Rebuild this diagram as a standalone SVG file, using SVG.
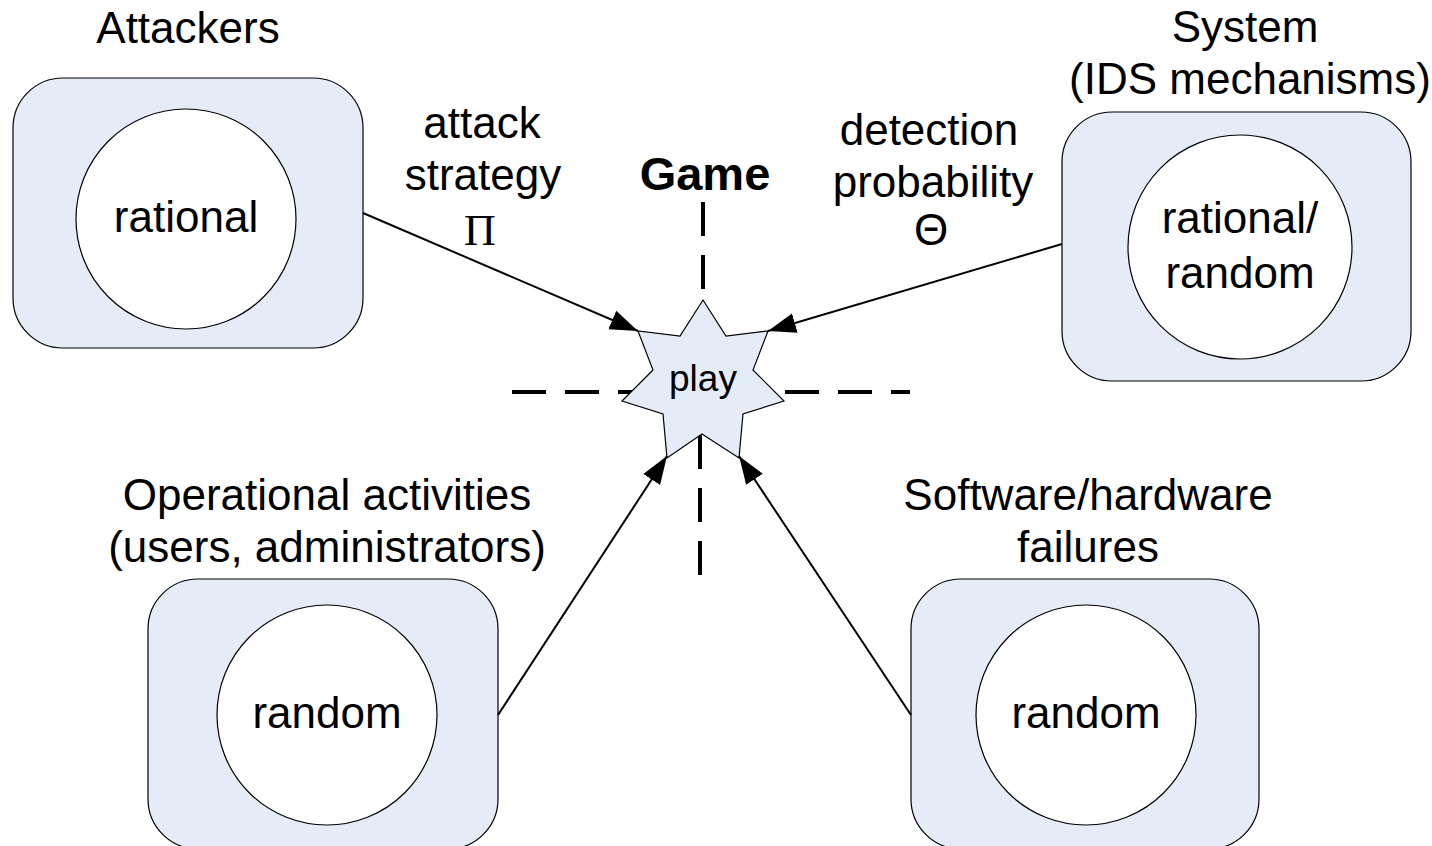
<svg xmlns="http://www.w3.org/2000/svg" width="1432" height="846" viewBox="0 0 1432 846">
<style>
.box{fill:#E5ECF7;stroke:#000;stroke-width:1.2}
.circ{fill:#fff;stroke:#000;stroke-width:1.2}
.t{font-family:"Liberation Sans",Arial,sans-serif;font-size:44px;fill:#000;text-anchor:middle}
.dash{stroke:#000;stroke-width:4;fill:none;stroke-dasharray:34 19}
.conn{stroke:#000;stroke-width:2;fill:none;marker-end:url(#ah)}
</style>
<defs>
<marker id="ah" markerUnits="userSpaceOnUse" markerWidth="30" markerHeight="24" viewBox="0 0 30 24" refX="28" refY="12" orient="auto">
<path d="M0,2 L28,12 L0,22 Z" fill="#000"/>
</marker>
</defs>
<rect width="1432" height="846" fill="#fff"/>
<g id="attackers">
<text class="t" x="188" y="43">Attackers</text>
<rect class="box" x="13" y="78" width="350" height="270" rx="50"/>
<circle class="circ" cx="186" cy="219" r="110"/>
<text class="t" x="186" y="232">rational</text>
</g>
<g id="system">
<text class="t" x="1245" y="42">System</text>
<text class="t" x="1250" y="94">(IDS mechanisms)</text>
<rect class="box" x="1062" y="112" width="349" height="269" rx="50"/>
<circle class="circ" cx="1240" cy="247" r="112"/>
<text class="t" x="1240" y="233">rational/</text>
<text class="t" x="1240" y="288">random</text>
</g>
<g id="operational">
<text class="t" x="327" y="510">Operational activities</text>
<text class="t" x="327" y="562">(users, administrators)</text>
<rect class="box" x="148" y="579" width="350" height="270" rx="50"/>
<circle class="circ" cx="327" cy="715" r="110"/>
<text class="t" x="327" y="728">random</text>
</g>
<g id="failures">
<text class="t" x="1088" y="510">Software/hardware</text>
<text class="t" x="1088" y="562">failures</text>
<rect class="box" x="911" y="579" width="348" height="270" rx="50"/>
<circle class="circ" cx="1086" cy="715" r="110"/>
<text class="t" x="1086" y="728">random</text>
</g>
<g id="game-axes">
<text class="t" x="705" y="190" style="font-weight:bold;font-size:47px">Game</text>
<line class="dash" x1="703" y1="202" x2="703" y2="300"/>
<line class="dash" x1="700" y1="435" x2="700" y2="575"/>
<line class="dash" x1="512" y1="392" x2="640" y2="392"/>
<line class="dash" x1="785" y1="392" x2="910" y2="392"/>
</g>
<g id="labels">
<text class="t" x="482" y="138">attack</text>
<text class="t" x="483" y="190">strategy</text>
<text x="480" y="245" font-family="'Liberation Serif','Times New Roman',serif" font-size="44" text-anchor="middle">Π</text>
<text class="t" x="929" y="145">detection</text>
<text class="t" x="933" y="197">probability</text>
<text class="t" x="931" y="245">Θ</text>
</g>
<g id="play">
<polygon points="703,300 726,336 768,331 753,370 784,401 743,414 739,458 702,434 667,458 663,414 622,401 653,370 638,331 680,336" fill="#E5ECF7" stroke="#000" stroke-width="1.2"/>
<text class="t" x="703" y="391" style="font-size:37px">play</text>
</g>
<g id="connectors">
<line class="conn" x1="363" y1="213" x2="638" y2="331"/>
<line class="conn" x1="1062" y1="244" x2="768" y2="331"/>
<line class="conn" x1="498" y1="715" x2="667" y2="456"/>
<line class="conn" x1="911" y1="715" x2="739" y2="456"/>
</g>
</svg>
